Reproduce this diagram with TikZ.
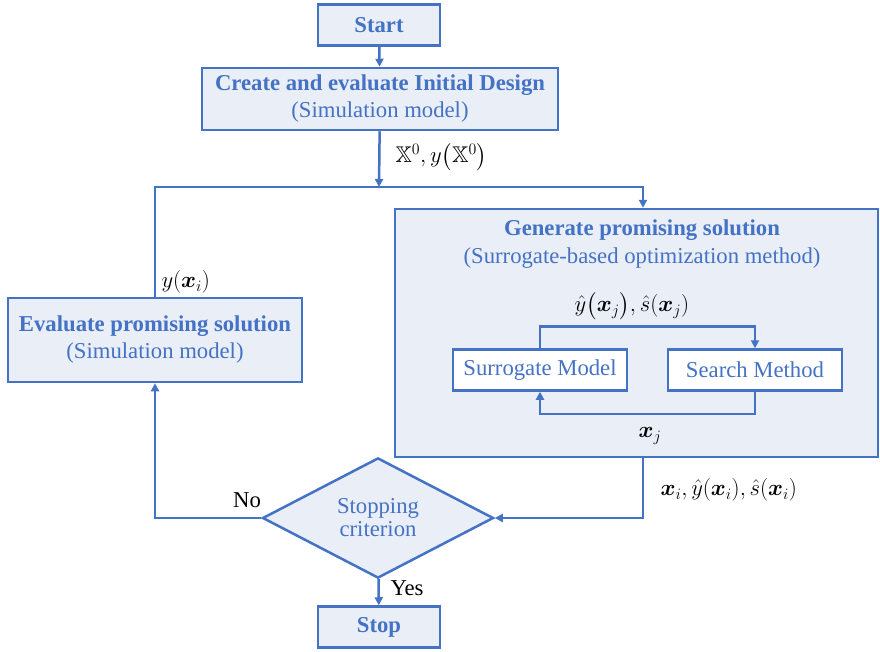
\documentclass[tikz,border=0pt]{standalone}
\usepackage{fix-cm}
\usepackage{amsmath, amssymb, bm}
\usepackage{fontspec}
\setmainfont{Liberation Serif}
\usetikzlibrary{shapes.geometric, arrows.meta, positioning}
\definecolor{flowblue}{HTML}{4472C4}
\definecolor{flowfill}{HTML}{E9EEF7}
\newcommand{\flowfont}{\fontsize{22.7}{27}\selectfont}

\begin{document}
\begin{tikzpicture}[
    x=1pt, y=-1pt,
    >={Triangle[length=8pt, width=8pt]},
    % Core styles
    procbox/.style={
        draw=flowblue, fill=flowfill, line width=2.5pt,
        text=flowblue, align=center, font=\flowfont, inner sep=0pt
    },
    innerbox/.style={
        draw=flowblue, fill=white, line width=2.5pt, text=flowblue,
        font=\flowfont, minimum width=174pt, minimum height=41pt
    },
    decision/.style={
        diamond, draw=flowblue, fill=flowfill, line width=2.5pt,
        text=flowblue, align=center, font=\flowfont, inner sep=0pt,
        minimum width=231pt, minimum height=99pt
    },
    flow/.style={draw=flowblue, line width=2.5pt},
    flowlabel/.style={font=\flowfont, text=black},
    boxtitle/.style={font=\flowfont\bfseries, text=flowblue},
    boxsub/.style={font=\flowfont, text=flowblue}
]
\useasboundingbox (0,0) rectangle (880,651);

% === MAIN BOXES ===
\node[procbox, minimum width=122pt, minimum height=41pt] (start) at (379,25) {\textbf{Start}};
\node[procbox, minimum width=356pt, minimum height=62pt] (init) at (380,99)
    {\textbf{Create and evaluate Initial Design}\\(Simulation model)};
\node[procbox, minimum width=294pt, minimum height=84pt] (eval) at (155,340)
    {\textbf{Evaluate promising solution}\\(Simulation model)};
\node[procbox, minimum width=483pt, minimum height=248pt] (gen) at (636.5,333) {};
\node[boxtitle] (gentitle) at (642,230) {Generate promising solution};
\node[boxsub] (gensub) at (642,258) {(Surrogate-based optimization method)};

% Inner loop of the surrogate method
\node[innerbox] (surr) at (540,370) {Surrogate Model};
\node[innerbox] (search) at (755,370) {Search Method};

% Decision and end
\node[decision] (crit) at (378,518) {Stopping\\[-4pt]criterion};
\node[procbox, minimum width=122pt, minimum height=41pt] (stop) at (379,627) {\textbf{Stop}};

% === CONNECTORS ===
\coordinate (merge) at (379,187);
\draw[flow, ->] (start) -- (init);
\draw[flow, ->] (init) -- (merge);
\draw[flow, ->] (eval.north) |- (merge) -| ([xshift=6.5pt]gen.north);
\draw[flow, ->] (surr.north) -- ++(0,-22) -| (search.north);
\draw[flow, ->] (search.south) -- ++(0,22) -| (surr.south);
\draw[flow, ->] ([xshift=6.5pt]gen.south) |- (crit.east);
\draw[flow, ->] (crit.west) -| (eval.south);
\draw[flow, ->] (crit) -- (stop);

% === LABELS ===
\node[flowlabel, anchor=west] (initout) at (392,157) {$\mathbb{X}^0, y\big(\mathbb{X}^0\big)$};
\node[flowlabel, anchor=west] (evalout) at (158,282) {$y(\bm{x}_i)$};
\node[flowlabel] (surrout) at (632,306) {$\hat{y}\big(\bm{x}_j\big), \hat{s}(\bm{x}_j)$};
\node[flowlabel] (searchout) at (650,436) {$\bm{x}_j$};
\node[flowlabel, anchor=west] (genout) at (657,490) {$\bm{x}_i, \hat{y}(\bm{x}_i), \hat{s}(\bm{x}_i)$};
\node[flowlabel] (nolabel) at (247,500) {No};
\node[flowlabel, anchor=west] (yeslabel) at (387,588) {Yes};

\end{tikzpicture}
\end{document}
